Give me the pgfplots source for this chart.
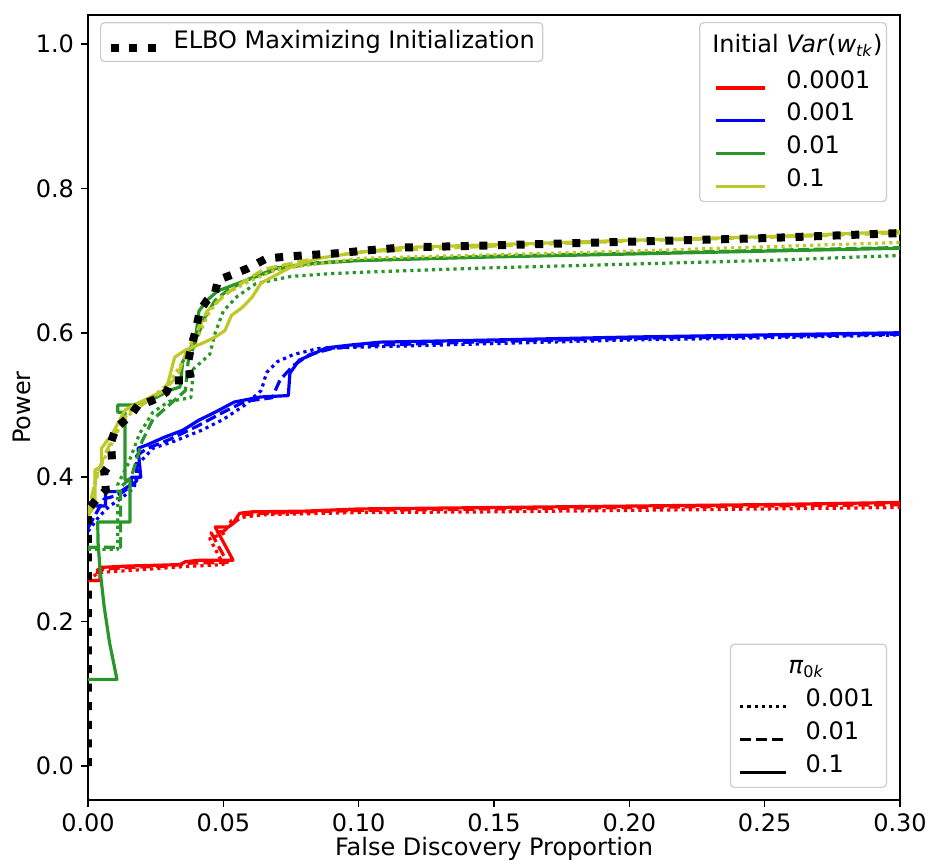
\documentclass[border=0pt]{standalone}
\usepackage{fontspec}
\setmainfont{DejaVu Sans}
\usepackage{pgfplots}
\pgfplotsset{compat=1.18}
\definecolor{mred}{RGB}{255,0,0}
\definecolor{mblue}{RGB}{0,0,255}
\definecolor{mgreen}{RGB}{40,150,40}
\definecolor{molive}{RGB}{190,200,40}
\pgfplotsset{
  common/.style={
    at={(0,0)}, anchor=south west,
    scale only axis, width=406pt, height=392.5pt,
    xmin=0, xmax=0.30, ymin=-0.047, ymax=1.04,
    font=\fontsize{12pt}{14pt}\selectfont,
  },
  lstyle/.style={
    draw=black!20, fill=white, fill opacity=0.8, text opacity=1,
    rounded corners=2pt, line width=0.6pt,
    inner xsep=4pt, inner ysep=3pt,
    column sep=8pt, row sep=1pt,
    nodes={inner sep=2pt, text height=8.8pt, text depth=2.6pt, anchor=base west},
    font=\fontsize{12pt}{14pt}\selectfont,
  },
  sol/.style={line width=1.6pt, line join=round},
  das/.style={line width=1.6pt, line join=round, dash pattern=on 5.5pt off 2.4pt},
  dot/.style={line width=1.6pt, line join=round, dash pattern=on 1.6pt off 2pt},
}
\begin{document}
\begin{tikzpicture}
\begin{axis}[common,
  axis line style={line width=0.8pt},
  tick align=outside, xtick pos=lower, ytick pos=left,
  major tick length=3.5pt, tick style={line width=0.8pt, black},
  xtick={0,0.05,0.1,0.15,0.2,0.25,0.3},
  ytick={0,0.2,0.4,0.6,0.8,1.0},
  /pgf/number format/assume math mode=true,
  xticklabel style={/pgf/number format/.cd, fixed, fixed zerofill, precision=2},
  yticklabel style={/pgf/number format/.cd, fixed, fixed zerofill, precision=1},
  scaled ticks=false,
  xlabel={False Discovery Proportion}, ylabel={Power},
  xlabel style={at={(axis description cs:0.5,-0.0701)}, anchor=base},
  ylabel style={at={(axis description cs:-0.0702,0.5)}, anchor=base},
  legend style={lstyle, inner xsep=3pt, column sep=4pt,
    nodes={inner sep=1pt, text height=8.8pt, text depth=2.6pt, anchor=base west},
    at={(rel axis cs:0.0148,0.991)}, anchor=north west},
  legend image code/.code={\draw[#1] (0pt,0pt) -- (24.5pt,0pt);},
]
% ---- red: Var = 0.0001
\addplot[mred, sol, forget plot] coordinates {(0,0.257)(0.0044,0.257)(0.0044,0.275)(0.015,0.277)(0.025,0.278)(0.034,0.279)(0.036,0.283)(0.041,0.285)(0.0536,0.285)(0.047,0.331)(0.052,0.331)(0.0543,0.340)(0.056,0.350)(0.0606,0.352)(0.08,0.353)(0.1,0.356)(0.15,0.358)(0.2,0.360)(0.25,0.362)(0.3,0.365)};
\addplot[mred, das, forget plot] coordinates {(0,0.257)(0.0035,0.257)(0.0035,0.272)(0.015,0.275)(0.03,0.277)(0.038,0.281)(0.0515,0.282)(0.0455,0.323)(0.05,0.325)(0.055,0.340)(0.058,0.348)(0.065,0.350)(0.1,0.354)(0.15,0.356)(0.2,0.358)(0.25,0.360)(0.3,0.362)};
\addplot[mred, dot, forget plot] coordinates {(0,0.257)(0.004,0.268)(0.02,0.272)(0.035,0.276)(0.05,0.279)(0.045,0.315)(0.05,0.322)(0.053,0.340)(0.058,0.345)(0.065,0.348)(0.1,0.351)(0.15,0.352)(0.2,0.354)(0.25,0.356)(0.3,0.358)};
% ---- blue: Var = 0.001
\addplot[mblue, sol, forget plot] coordinates {(0,0.33)(0,0.36)(0.0065,0.36)(0.0065,0.38)(0.012,0.38)(0.016,0.39)(0.016,0.40)(0.0195,0.40)(0.0185,0.44)(0.022,0.445)(0.028,0.455)(0.035,0.465)(0.041,0.479)(0.047,0.49)(0.054,0.504)(0.0635,0.511)(0.074,0.513)(0.0746,0.544)(0.078,0.562)(0.0846,0.573)(0.088,0.579)(0.097,0.583)(0.108,0.587)(0.15,0.590)(0.2,0.594)(0.25,0.597)(0.3,0.600)};
\addplot[mblue, das, forget plot] coordinates {(0,0.33)(0.003,0.35)(0.006,0.37)(0.011,0.375)(0.015,0.385)(0.018,0.395)(0.018,0.43)(0.022,0.44)(0.03,0.452)(0.04,0.47)(0.05,0.49)(0.058,0.505)(0.068,0.51)(0.071,0.535)(0.076,0.555)(0.082,0.57)(0.09,0.578)(0.1,0.582)(0.15,0.588)(0.2,0.592)(0.25,0.595)(0.3,0.598)};
\addplot[mblue, dot, forget plot] coordinates {(0,0.325)(0.004,0.345)(0.008,0.36)(0.012,0.37)(0.017,0.385)(0.019,0.42)(0.024,0.44)(0.032,0.45)(0.042,0.465)(0.05,0.48)(0.058,0.5)(0.064,0.52)(0.066,0.545)(0.07,0.56)(0.076,0.57)(0.085,0.578)(0.1,0.58)(0.15,0.585)(0.2,0.59)(0.25,0.593)(0.3,0.597)};
% ---- green: Var = 0.01
\addplot[mgreen, sol, forget plot] coordinates {(0,0.12)(0.0107,0.12)(0.008,0.17)(0.006,0.22)(0.0045,0.27)(0.0037,0.31)(0.0036,0.338)(0.0155,0.338)(0.0155,0.396)(0.0137,0.396)(0.0137,0.49)(0.011,0.49)(0.011,0.50)(0.017,0.50)(0.025,0.51)(0.03,0.52)(0.034,0.525)(0.035,0.56)(0.038,0.58)(0.04,0.60)(0.041,0.63)(0.044,0.645)(0.048,0.658)(0.053,0.665)(0.06,0.675)(0.07,0.69)(0.08,0.695)(0.1,0.70)(0.15,0.705)(0.2,0.709)(0.25,0.713)(0.3,0.717)};
\addplot[mgreen, das, forget plot] coordinates {(0,0.303)(0.012,0.303)(0.012,0.386)(0.016,0.40)(0.02,0.45)(0.024,0.48)(0.03,0.50)(0.036,0.52)(0.037,0.56)(0.04,0.59)(0.043,0.62)(0.047,0.645)(0.052,0.66)(0.06,0.675)(0.07,0.688)(0.085,0.697)(0.1,0.70)(0.15,0.706)(0.2,0.71)(0.25,0.714)(0.3,0.718)};
\addplot[mgreen, dot, forget plot] coordinates {(0,0.30)(0.011,0.30)(0.011,0.39)(0.015,0.42)(0.019,0.46)(0.024,0.49)(0.03,0.505)(0.038,0.51)(0.039,0.55)(0.045,0.57)(0.047,0.60)(0.05,0.63)(0.055,0.65)(0.062,0.668)(0.075,0.678)(0.09,0.682)(0.11,0.685)(0.15,0.69)(0.2,0.695)(0.25,0.70)(0.3,0.707)};
% ---- olive: Var = 0.1
\addplot[molive, sol, forget plot] coordinates {(0,0.347)(0.0026,0.361)(0.0026,0.41)(0.005,0.415)(0.005,0.44)(0.009,0.46)(0.0137,0.493)(0.017,0.50)(0.021,0.507)(0.028,0.52)(0.0296,0.531)(0.032,0.566)(0.036,0.576)(0.042,0.585)(0.047,0.594)(0.0506,0.603)(0.053,0.624)(0.057,0.635)(0.0606,0.649)(0.064,0.669)(0.068,0.677)(0.075,0.691)(0.085,0.703)(0.0975,0.71)(0.116,0.718)(0.15,0.722)(0.2,0.728)(0.25,0.733)(0.3,0.74)};
\addplot[molive, das, forget plot] coordinates {(0,0.35)(0.003,0.40)(0.006,0.43)(0.01,0.46)(0.015,0.49)(0.02,0.50)(0.028,0.52)(0.033,0.54)(0.036,0.57)(0.04,0.60)(0.044,0.63)(0.05,0.65)(0.055,0.665)(0.065,0.688)(0.08,0.70)(0.1,0.712)(0.15,0.72)(0.2,0.727)(0.25,0.732)(0.3,0.738)};
\addplot[molive, dot, forget plot] coordinates {(0,0.35)(0.004,0.41)(0.008,0.44)(0.013,0.48)(0.02,0.50)(0.03,0.53)(0.035,0.56)(0.04,0.59)(0.045,0.63)(0.05,0.652)(0.06,0.672)(0.07,0.688)(0.1,0.703)(0.15,0.708)(0.2,0.713)(0.25,0.719)(0.3,0.725)};
% ---- ELBO maximizing initialization
\addplot[black, line width=4pt, dash pattern=on 4pt off 5.3pt] coordinates {(0,0)(0,0.354)(0.0004,0.357)(0.0033,0.370)(0.0066,0.382)(0.006,0.407)(0.0089,0.422)(0.0085,0.448)(0.0103,0.468)(0.0159,0.486)(0.0185,0.500)(0.021,0.502)(0.0255,0.509)(0.029,0.518)(0.031,0.534)(0.038,0.534)(0.037,0.559)(0.038,0.579)(0.0395,0.599)(0.0414,0.631)(0.044,0.645)(0.047,0.656)(0.048,0.673)(0.053,0.680)(0.059,0.689)(0.066,0.703)(0.079,0.707)(0.092,0.710)(0.103,0.714)(0.116,0.718)(0.15,0.721)(0.189,0.725)(0.25,0.731)(0.3,0.738)};
\addlegendentry{ELBO Maximizing Initialization}
\end{axis}
% ---- legend: initial variance
\begin{axis}[common, hide axis,
  legend style={lstyle, at={(rel axis cs:0.984,0.991)}, anchor=north east},
  legend image code/.code={\draw[#1] (0pt,0pt) -- (24.5pt,0pt);},
]
\addlegendimage{legend image code/.code={\path[draw=none, fill=none] (-4pt,0pt) rectangle (24.5pt,0.1pt);}}
\addlegendentry[text height=9.8pt, text depth=4.1pt]{\makebox[44pt][l]{\hspace*{-37pt}Initial \textit{Var}(\textit{w}\textsubscript{\textit{tk}})}}
\addlegendimage{mred, sol}\addlegendentry{0.0001}
\addlegendimage{mblue, sol}\addlegendentry{0.001}
\addlegendimage{mgreen, sol}\addlegendentry{0.01}
\addlegendimage{molive, sol}\addlegendentry{0.1}
\end{axis}
% ---- legend: pi_0k
\begin{axis}[common, hide axis,
  legend style={lstyle, column sep=7pt, at={(rel axis cs:0.984,0.0153)}, anchor=south east},
  legend image code/.code={\draw[#1] (0pt,0pt) -- (23pt,0pt);},
]
\addlegendimage{empty legend}
\addlegendentry[text height=9.8pt]{\hspace*{-8.5pt}\textit{π}\textsubscript{0\textit{k}}}
\addlegendimage{black, dot}\addlegendentry{0.001}
\addlegendimage{black, das}\addlegendentry{0.01}
\addlegendimage{black, sol}\addlegendentry{0.1}
\end{axis}
\pgfresetboundingbox
\path (-44pt,-30.5pt) rectangle (420pt,400pt);
\end{tikzpicture}
\end{document}
